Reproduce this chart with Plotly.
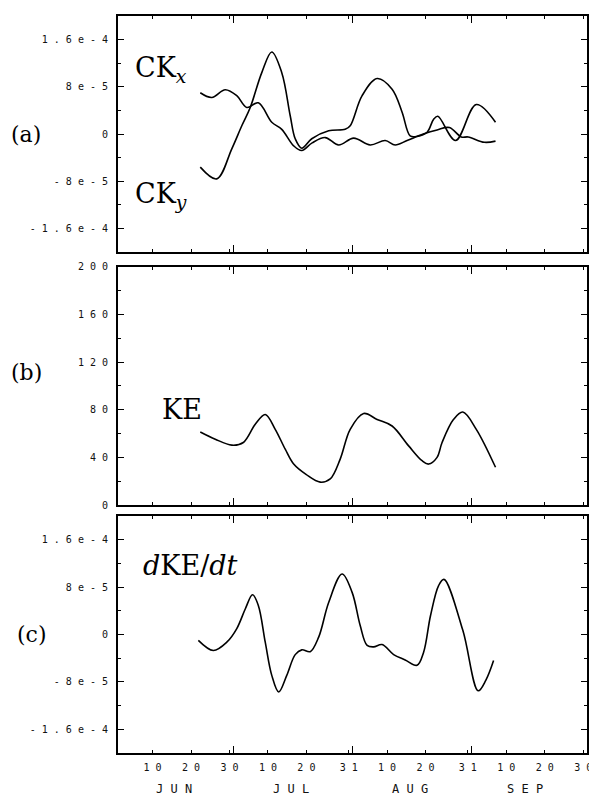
import plotly.graph_objects as go

# ---------------- data (x = day counted from 31 May, i.e. Jun 10 -> 10, Jul 10 -> 40) -------------
ckx_day = [22.4, 25.4, 28.9, 31.9, 34.5, 37.5, 41.0, 43.6, 46.7, 48.8, 51.5, 54.9, 58.4,
           62.3, 66.6, 70.5, 73.1, 76.2, 80.4, 84.0, 87.2, 90.3, 92.1, 96.3, 99.2]
ckx = [7.0e-5, 6.2e-5, 7.5e-5, 6.5e-5, 4.5e-5, 5.3e-5, 2.0e-5, 0.8e-5, -2.0e-5, -2.8e-5,
       -1.5e-5, -0.6e-5, -1.85e-5, -0.7e-5, -1.85e-5, -1.1e-5, -1.85e-5, -1.1e-5, 0.0,
       0.7e-5, 1.1e-5, -0.5e-5, -0.5e-5, -1.4e-5, -1.2e-5]

cky_day = [22.4, 26.7, 30.6, 33.2, 35.4, 38.4, 41.0, 43.6, 45.8, 47.1, 48.8, 51.4, 55.8,
           60.1, 61.4, 64.5, 68.4, 72.3, 74.9, 77.0, 78.8, 81.4, 83.1, 84.2, 88.8, 94.2, 99.2]
cky = [-5.6e-5, -7.6e-5, -2.5e-5, 1.4e-5, 4.5e-5, 1.04e-4, 1.39e-4, 1.04e-4, 3.1e-5,
       -0.8e-5, -2.4e-5, -0.8e-5, 0.55e-5, 0.8e-5, 1.4e-5, 6.5e-5, 9.4e-5, 7.6e-5, 3.7e-5,
       -0.3e-5, -0.4e-5, 0.3e-5, 2.5e-5, 3.0e-5, -1.1e-5, 5.0e-5, 2.0e-5]

ke_day = [22.4, 26.3, 30.6, 33.6, 36.7, 39.3, 41.9, 44.5, 46.7, 50.0, 53.6, 56.2, 58.8,
          61.4, 64.9, 68.4, 72.3, 76.6, 80.1, 81.8, 84.0, 85.3, 88.3, 90.7, 94.2, 99.2]
ke = [61.4, 55.3, 50.3, 52.5, 67.8, 76.1, 63.6, 46.9, 34.4, 25.5, 19.2, 21.9, 38.6,
      63.6, 76.9, 71.9, 66.4, 49.7, 37.2, 34.4, 40.0, 52.5, 72.0, 78.1, 63.6, 31.7]

dke_day = [21.9, 25.8, 29.3, 31.9, 34.1, 36.0, 37.5, 39.3, 41.0, 42.8, 44.9, 47.1, 48.8,
           51.0, 53.2, 55.8, 59.3, 61.9, 64.0, 65.8, 67.5, 69.7, 72.7, 75.7, 78.8, 80.5,
           82.3, 84.4, 85.8, 90.7, 94.7, 96.7, 98.7]
dke = [-1.0e-5, -2.7e-5, -1.3e-5, 1.0e-5, 4.3e-5, 6.7e-5, 4.9e-5, -1.3e-5, -6.9e-5,
       -9.7e-5, -6.9e-5, -3.4e-5, -2.6e-5, -2.9e-5, -0.45e-5, 5.4e-5, 1.02e-4, 7.1e-5,
       1.5e-5, -1.85e-5, -2.1e-5, -1.7e-5, -3.4e-5, -4.3e-5, -5.2e-5, -3.0e-5, 3.2e-5,
       8.25e-5, 9.3e-5, 0.7e-5, -9.5e-5, -7.7e-5, -4.4e-5]

x_tick_vals = [10, 20, 30, 40, 50, 61, 71, 81, 92, 102, 112, 122]
x_tick_text = ["10", "20", "30", "10", "20", "31", "10", "20", "31", "10", "20", "30"]
month_starts = [31, 62, 93]
month_names = ["JUN", "JUL", "AUG", "SEP"]
month_centers = [15.5, 46, 77, 107]

ck_tick_vals = [-1.6e-4, -8e-5, 0, 8e-5, 1.6e-4]
ck_tick_text = ["-1.6e-4", "-8e-5", "0", "8e-5", "1.6e-4"]
ke_tick_vals = [0, 40, 80, 120, 160, 200]
ke_tick_text = ["0", "40", "80", "120", "160", "200"]


def spaced(s):
    return " ".join(s)


# the page body adds an 8px offset; work in target-picture pixels and subtract it
OFF = 8
W, H = 597 - OFF, 801 - OFF
ML, MR, MT, MB = 118 - OFF, 10, 10 - OFF, 48
PH = H - MT - MB
PW = W - ML - MR


def dom(top_px, bot_px):
    top_px -= OFF
    bot_px -= OFF
    return [1 - (bot_px - MT) / PH, 1 - (top_px - MT) / PH]


tickfont = dict(family="DejaVu Sans Mono", size=10, color="#111")
serif = "DejaVu Serif"
LINE = dict(color="black", width=1.6)

fig = go.Figure()
fig.add_trace(go.Scatter(x=ckx_day, y=ckx, mode="lines", line=LINE, line_shape="spline",
                         xaxis="x", yaxis="y", showlegend=False))
fig.add_trace(go.Scatter(x=cky_day, y=cky, mode="lines", line=LINE, line_shape="spline",
                         xaxis="x", yaxis="y", showlegend=False))
fig.add_trace(go.Scatter(x=ke_day, y=ke, mode="lines", line=LINE, line_shape="spline",
                         xaxis="x2", yaxis="y2", showlegend=False))
fig.add_trace(go.Scatter(x=dke_day, y=dke, mode="lines", line=LINE, line_shape="spline",
                         xaxis="x3", yaxis="y3", showlegend=False))

xcommon = dict(range=[1, 123], showline=True, linewidth=2, linecolor="black", mirror="ticks",
               ticks="inside", ticklen=3, tickwidth=1, tickcolor="black",
               tickmode="array", tickvals=x_tick_vals, ticktext=[spaced(t) for t in x_tick_text],
               showgrid=False, zeroline=False, tickfont=tickfont, ticklabelstandoff=4,
               minor=dict(tickmode="array", tickvals=month_starts, ticks="inside",
                          ticklen=7, tickwidth=1, tickcolor="black", showgrid=False))
ycommon = dict(showline=True, linewidth=2, linecolor="black", mirror="ticks",
               ticks="inside", ticklen=6, tickwidth=1, tickcolor="black",
               showgrid=False, zeroline=False, tickfont=tickfont, tickmode="array",
               ticklabelstandoff=6)

fig.update_layout(
    width=W, height=H, margin=dict(l=ML, r=MR, t=MT, b=MB),
    paper_bgcolor="white", plot_bgcolor="white",
    xaxis=dict(xcommon, anchor="y", domain=[0, 1], showticklabels=False),
    xaxis2=dict(xcommon, anchor="y2", domain=[0, 1], showticklabels=False, matches="x"),
    xaxis3=dict(xcommon, anchor="y3", domain=[0, 1], showticklabels=True, matches="x"),
    yaxis=dict(ycommon, anchor="x", domain=dom(10, 248), range=[-2e-4, 2e-4],
               tickvals=ck_tick_vals, ticktext=[spaced(t) for t in ck_tick_text],
               minor=dict(tickmode="linear", tick0=0, dtick=4e-5, ticks="inside", ticklen=3,
                          tickcolor="black")),
    yaxis2=dict(ycommon, anchor="x2", domain=dom(263, 503), range=[0, 200],
                tickvals=ke_tick_vals, ticktext=[spaced(t) for t in ke_tick_text],
                minor=dict(tickmode="linear", tick0=0, dtick=20, ticks="inside", ticklen=3,
                           tickcolor="black")),
    yaxis3=dict(ycommon, anchor="x3", domain=dom(514, 753), range=[-2e-4, 2e-4],
                tickvals=ck_tick_vals, ticktext=[spaced(t) for t in ck_tick_text],
                minor=dict(tickmode="linear", tick0=0, dtick=4e-5, ticks="inside", ticklen=3,
                           tickcolor="black")),
)

ann = []
# panel letters
for lab, yref, yv, xpx in [("(a)", "y", 0, 26), ("(b)", "y2", 111, 26), ("(c)", "y3", 0, 32)]:
    ann.append(dict(text=lab, xref="paper", x=(xpx - OFF - ML) / PW, yref=yref, y=yv,
                    showarrow=False, xanchor="center", yanchor="middle",
                    font=dict(family=serif, size=22, color="black")))
# curve labels
ann.append(dict(text="CK<sub><i>x</i></sub>", xref="x", x=4.9, yref="y", y=1.09e-4,
                showarrow=False, xanchor="left", yanchor="middle",
                font=dict(family=serif, size=27, color="black")))
ann.append(dict(text="CK<sub><i>y</i></sub>", xref="x", x=4.9, yref="y", y=-1.04e-4,
                showarrow=False, xanchor="left", yanchor="middle",
                font=dict(family=serif, size=27, color="black")))
ann.append(dict(text="KE", xref="x2", x=11.9, yref="y2", y=80,
                showarrow=False, xanchor="left", yanchor="middle",
                font=dict(family=serif, size=27, color="black")))
ann.append(dict(text="<i>d</i>KE/<i>dt</i>", xref="x3", x=7.0, yref="y3", y=1.16e-4,
                showarrow=False, xanchor="left", yanchor="middle",
                font=dict(family=serif, size=27, color="black")))
# month names
for name, xc in zip(month_names, month_centers):
    ann.append(dict(text=spaced(name), xref="x3", x=xc, yref="paper", y=-(789 - 753) / PH,
                    showarrow=False, xanchor="center", yanchor="middle",
                    font=dict(family="DejaVu Sans Mono", size=12, color="#111")))
fig.update_layout(annotations=ann)

fig.write_html("out.html")
